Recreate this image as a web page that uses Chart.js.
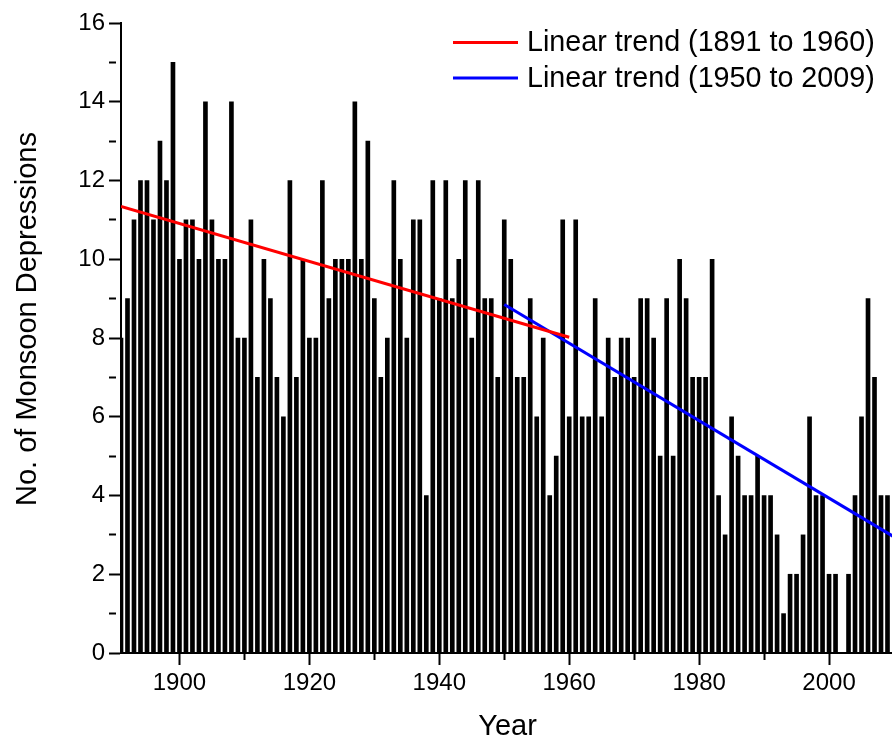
<!DOCTYPE html>
<html>
<head>
<meta charset="utf-8">
<title>Monsoon Depressions</title>
<script src="https://cdn.jsdelivr.net/npm/chart.js@4.4.1/dist/chart.umd.min.js"></script>
<style>
    html, body { margin: 0; padding: 0; background: #fff; overflow: hidden; }
    #chart-box { position: relative; width: 900px; height: 737px; }
</style>
</head>
<body>
<div id="chart-box"><canvas id="depressions-chart"></canvas></div>
<script>
// yearly count of monsoon depressions
var years = [
    1891, 1892, 1893, 1894, 1895, 1896, 1897, 1898, 1899, 1900,
    1901, 1902, 1903, 1904, 1905, 1906, 1907, 1908, 1909, 1910,
    1911, 1912, 1913, 1914, 1915, 1916, 1917, 1918, 1919, 1920,
    1921, 1922, 1923, 1924, 1925, 1926, 1927, 1928, 1929, 1930,
    1931, 1932, 1933, 1934, 1935, 1936, 1937, 1938, 1939, 1940,
    1941, 1942, 1943, 1944, 1945, 1946, 1947, 1948, 1949, 1950,
    1951, 1952, 1953, 1954, 1955, 1956, 1957, 1958, 1959, 1960,
    1961, 1962, 1963, 1964, 1965, 1966, 1967, 1968, 1969, 1970,
    1971, 1972, 1973, 1974, 1975, 1976, 1977, 1978, 1979, 1980,
    1981, 1982, 1983, 1984, 1985, 1986, 1987, 1988, 1989, 1990,
    1991, 1992, 1993, 1994, 1995, 1996, 1997, 1998, 1999, 2000,
    2001, 2002, 2003, 2004, 2005, 2006, 2007, 2008, 2009
];
var depressions = [
    8, 9, 11, 12, 12, 11, 13, 12, 15, 10,
    11, 11, 10, 14, 11, 10, 10, 14, 8, 8,
    11, 7, 10, 9, 7, 6, 12, 7, 10, 8,
    8, 12, 9, 10, 10, 10, 14, 10, 13, 9,
    7, 8, 12, 10, 8, 11, 11, 4, 12, 9,
    12, 9, 10, 12, 8, 12, 9, 9, 7, 11,
    10, 7, 7, 9, 6, 8, 4, 5, 11, 6,
    11, 6, 6, 9, 6, 8, 7, 8, 8, 7,
    9, 9, 8, 5, 9, 5, 10, 9, 7, 7,
    7, 10, 4, 3, 6, 5, 4, 4, 5, 4,
    4, 3, 1, 2, 2, 3, 6, 4, 4, 2,
    2, 0, 2, 4, 6, 9, 7, 4, 4
];

// fitted trend lines (end points)
var trendEarlyYears = [1891, 1960];
var trendEarlyValues = [11.34, 8.02];
var trendLateYears = [1950, 2010];
var trendLateValues = [8.85, 2.95];

var xTickLabels = [1900, 1920, 1940, 1960, 1980, 2000];
var yTickLabels = [0, 2, 4, 6, 8, 10, 12, 14, 16];

var FONT = '"Liberation Sans", Arial, Helvetica, sans-serif';

function toPoints(xs, ys) {
    var pts = [];
    for (var i = 0; i < xs.length; i++) {
        pts.push({ x: xs[i], y: ys[i] });
    }
    return pts;
}

// legend drawn inside the plot, top right
var insideLegend = {
    id: 'insideLegend',
    afterDraw: function (chart) {
        var ctx = chart.ctx,
            rowY = chart.chartArea.top + 19.5;
        ctx.save();
        ctx.font = '28.7px ' + FONT;
        ctx.textBaseline = 'middle';
        ctx.textAlign = 'left';
        chart.data.datasets.forEach(function (ds) {
            if (ds.type !== 'line') return;
            ctx.strokeStyle = ds.borderColor;
            ctx.lineWidth = 3;
            ctx.beginPath();
            ctx.moveTo(453, rowY);
            ctx.lineTo(518, rowY);
            ctx.stroke();
            ctx.fillStyle = '#000';
            ctx.fillText(ds.label, 527, rowY + 1);
            rowY += 35.6;
        });
        ctx.restore();
    }
};

// axis titles
var axisTitles = {
    id: 'axisTitles',
    afterDraw: function (chart) {
        var ctx = chart.ctx,
            area = chart.chartArea;
        ctx.save();
        ctx.fillStyle = '#000';
        ctx.font = '29px ' + FONT;
        ctx.textAlign = 'center';
        ctx.textBaseline = 'alphabetic';
        ctx.fillText('Year', (area.left + area.right) / 2, 735);
        ctx.translate(36, 319);
        ctx.rotate(-Math.PI / 2);
        ctx.fillText('No. of Monsoon Depressions', 0, 0);
        ctx.restore();
    }
};

Chart.defaults.font.family = FONT;
Chart.defaults.color = '#000';

new Chart(document.getElementById('depressions-chart'), {
    type: 'bar',
    data: {
        datasets: [
            {
                type: 'line',
                label: 'Linear trend (1891 to 1960)',
                data: toPoints(trendEarlyYears, trendEarlyValues),
                borderColor: '#ff0000',
                borderWidth: 3,
                pointRadius: 0,
                fill: false,
                order: 0
            },
            {
                type: 'line',
                label: 'Linear trend (1950 to 2009)',
                data: toPoints(trendLateYears, trendLateValues),
                borderColor: '#0000ff',
                borderWidth: 3,
                pointRadius: 0,
                fill: false,
                order: 1
            },
            {
                type: 'bar',
                label: 'Depressions',
                data: toPoints(years, depressions),
                backgroundColor: '#000',
                borderWidth: 0,
                barThickness: 4,
                clip: 0,
                order: 2
            }
        ]
    },
    options: {
        responsive: true,
        maintainAspectRatio: false,
        animation: false,
        layout: { padding: { left: 0, right: 6, top: 23, bottom: 0 } },
        plugins: {
            legend: { display: false },
            tooltip: { enabled: false }
        },
        scales: {
            x: {
                type: 'linear',
                min: 1891,
                max: 2010,
                offset: false,
                border: { color: '#000', width: 2 },
                grid: {
                    offset: false,
                    drawOnChartArea: false,
                    tickLength: 12,
                    tickColor: '#000',
                    tickWidth: 2,
                    tickBorderDash: function (c) {
                        return xTickLabels.indexOf(c.tick.value) >= 0 ? [] : [6, 40];
                    }
                },
                ticks: {
                    stepSize: 10,
                    maxTicksLimit: 20,
                    includeBounds: false,
                    autoSkip: false,
                    maxRotation: 0,
                    padding: 4,
                    font: { size: 24 },
                    callback: function (v) {
                        return xTickLabels.indexOf(v) >= 0 ? String(v) : '';
                    }
                },
                afterFit: function (scale) { scale.height = 84; }
            },
            y: {
                min: 0,
                max: 16,
                border: { color: '#000', width: 2 },
                grid: {
                    drawOnChartArea: false,
                    tickLength: 12,
                    tickColor: '#000',
                    tickWidth: 2,
                    tickBorderDash: function (c) {
                        return yTickLabels.indexOf(c.tick.value) >= 0 ? [] : [7, 40];
                    }
                },
                ticks: {
                    stepSize: 1,
                    maxTicksLimit: 20,
                    autoSkip: false,
                    padding: 4,
                    font: { size: 24 },
                    callback: function (v) {
                        return yTickLabels.indexOf(v) >= 0 ? String(v) : '';
                    }
                },
                afterFit: function (scale) { scale.width = 121; }
            }
        }
    },
    plugins: [insideLegend, axisTitles]
});
</script>
</body>
</html>
